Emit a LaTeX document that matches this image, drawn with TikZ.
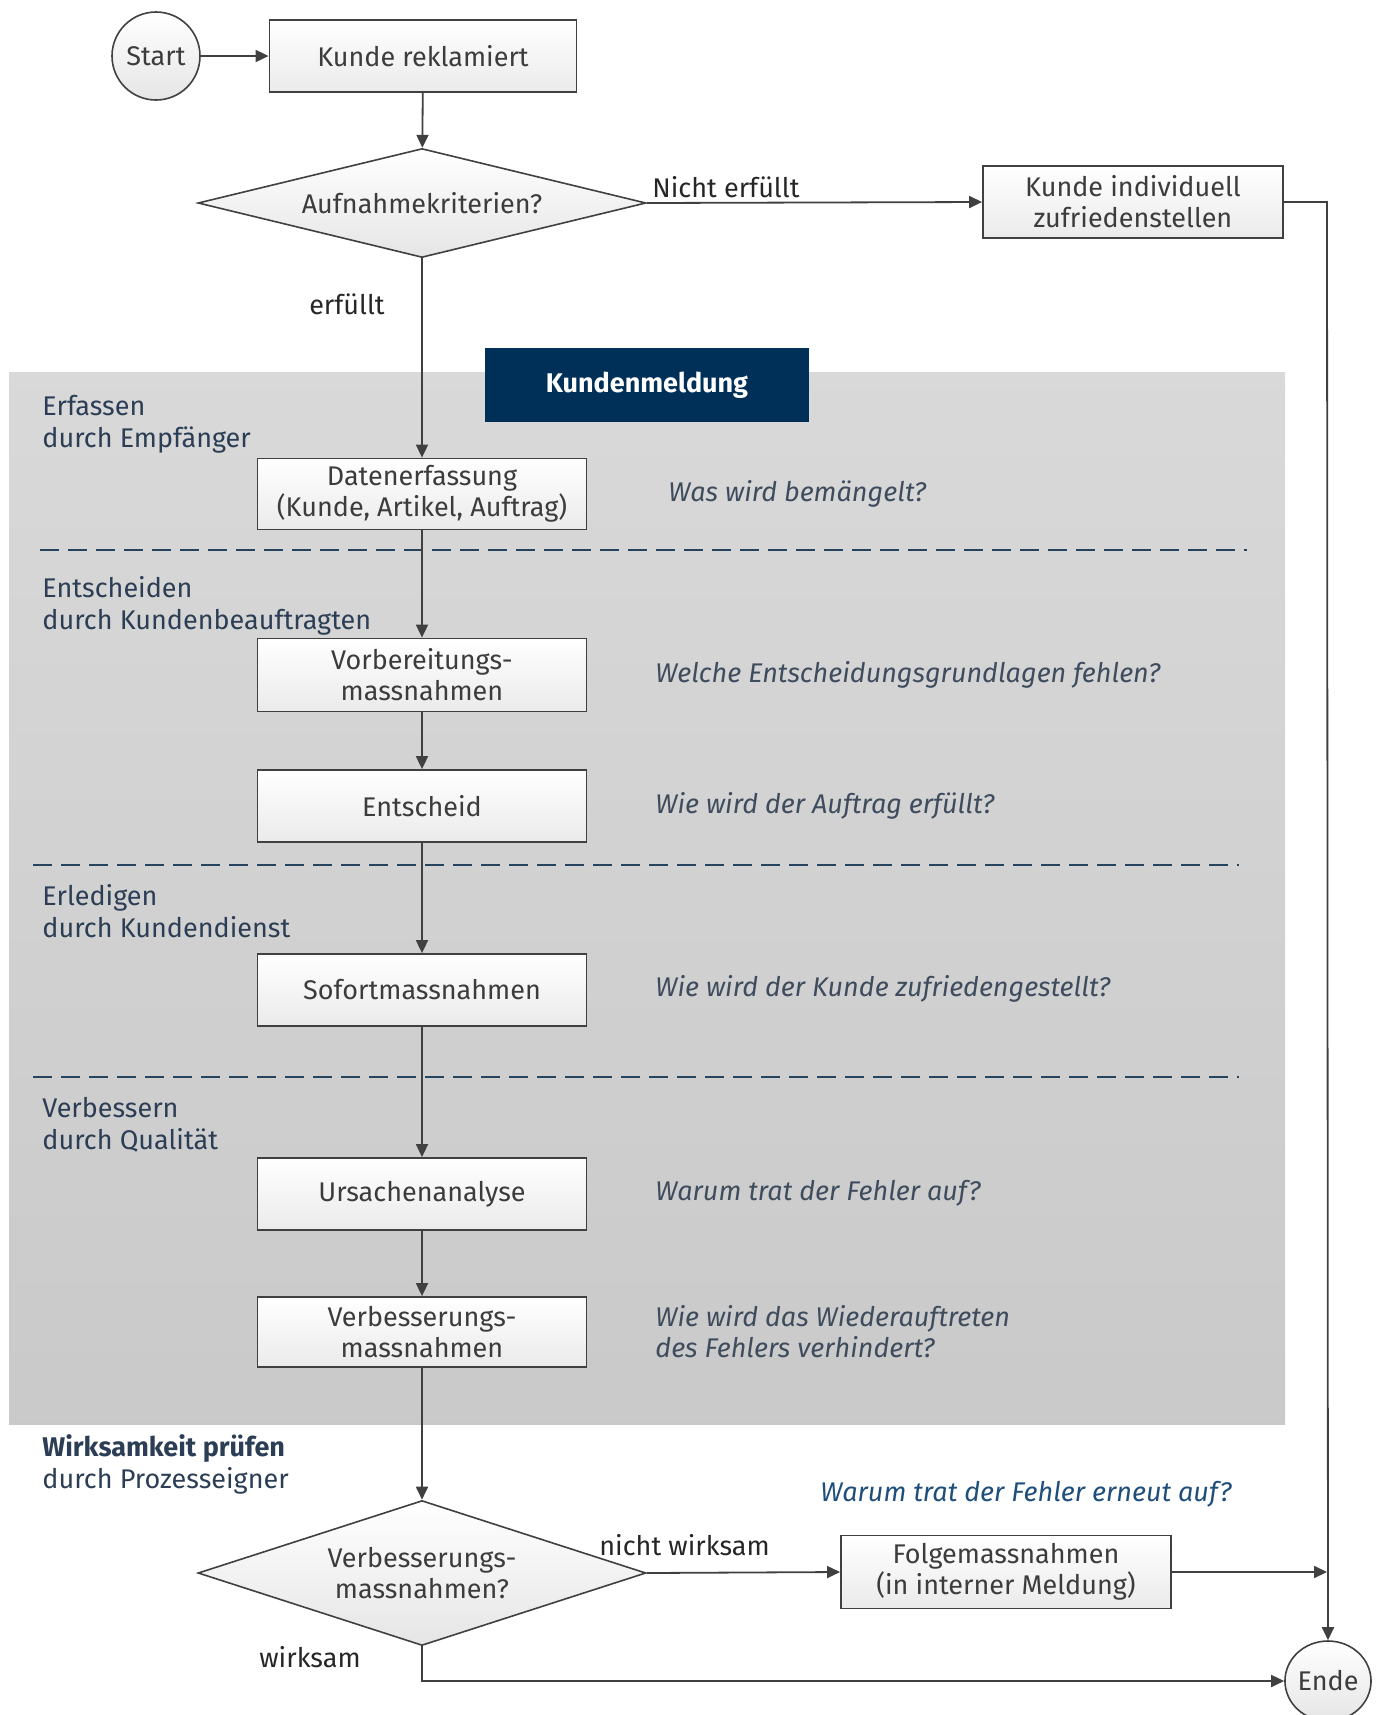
\documentclass[tikz,border=0pt]{standalone}
\usepackage{fontspec}
\setmainfont{Fira Sans}
\usetikzlibrary{shapes.geometric,arrows.meta}
\definecolor{txt}{HTML}{3C3C3C}
\definecolor{edge}{HTML}{404040}
\definecolor{navy}{HTML}{003057}
\definecolor{phase}{HTML}{2B3E55}
\definecolor{quest}{HTML}{3E4C5E}
\definecolor{questb}{HTML}{1F4E7A}
\definecolor{dashc}{HTML}{27445F}
\tikzset{
  base/.style={font=\fontsize{13.5}{15.5}\selectfont, text=txt},
  procbox/.style={base, draw=edge, line width=0.9pt, rectangle, top color=white, bottom color=black!8,
     minimum width=164.5pt, minimum height=35.5pt, align=center, inner sep=2pt},
  decbox/.style={base, draw=edge, line width=0.8pt, diamond, top color=white, bottom color=black!10,
     minimum width=224pt, inner sep=0pt, align=center},
  term/.style={base, draw=edge, line width=0.8pt, ellipse, top color=white, bottom color=black!10, inner sep=0pt},
  conn/.style={draw=edge, line width=0.9pt, -{Triangle[length=6.5pt,width=6pt]}},
  phaselbl/.style={font=\fontsize{13.5}{16}\selectfont, text=phase, anchor=base west, align=left, inner sep=0pt},
  qlbl/.style={font=\fontsize{13.5}{15.5}\selectfont\itshape, text=quest, anchor=west, align=left, inner sep=0pt},
  elbl/.style={font=\fontsize{13.5}{15.5}\selectfont, text=black!85, inner sep=0pt},
  sep/.style={draw=dashc, line width=1.1pt, dash pattern=on 9.5pt off 4.5pt}
}
\begin{document}
\begin{tikzpicture}[x=0.5pt,y=-0.5pt]
\useasboundingbox (0,0) rectangle (1377,1715);
% grey background
\shade[top color=black!15, bottom color=black!21] (9,372) rectangle (1285,1424);
\node[fill=navy, minimum width=162pt, minimum height=37pt, inner sep=0pt,
      font=\fontsize{13.5}{15.5}\selectfont\bfseries, text=white] (km) at (647,385) {Kundenmeldung};
% dashed separators
\draw[sep] (40,550) -- (1247,550);
\draw[sep] (33,865) -- (1239,865);
\draw[sep] (33,1077) -- (1239,1077);

% nodes
\node[term, minimum width=44pt, minimum height=44pt] (start) at (156,56) {Start};
\node[procbox, minimum width=153.5pt, minimum height=36pt] (kr) at (423,56) {Kunde reklamiert};
\node[decbox, minimum height=54.5pt, aspect=4.1] (d1) at (422,203) {Aufnahmekriterien?};
\node[procbox, minimum width=150pt, minimum height=36pt] (kiz) at (1133,202) {Kunde individuell\\zufriedenstellen};
\node[procbox] (de) at (422,494) {Datenerfassung\\(Kunde, Artikel, Auftrag)};
\node[procbox, minimum height=36.5pt] (vm) at (422,675) {Vorbereitungs-\\massnahmen};
\node[procbox, minimum height=36pt] (ent) at (422,806) {Entscheid};
\node[procbox, minimum height=36pt] (sm) at (422,990) {Sofortmassnahmen};
\node[procbox, minimum height=36pt] (ua) at (422,1194) {Ursachenanalyse};
\node[procbox, minimum height=35pt] (vbm) at (422,1332) {Verbesserungs-\\massnahmen};
\node[decbox, minimum height=72.5pt, aspect=3.1] (d2) at (422,1573) {Verbesserungs-\\massnahmen?};
\node[procbox, minimum width=165pt, minimum height=36.5pt] (fm) at (1006,1572) {Folgemassnahmen\\(in interner Meldung)};
\node[term, minimum width=42pt, minimum height=40pt] (ende) at (1328,1681) {Ende};
\coordinate (cr) at (1327,202);
\coordinate (fmend) at (1327,1572);

% phase labels (anchor = baseline of the second line)
\node[phaselbl] (p1) at (42,447) {Erfassen\\durch Empfänger};
\node[phaselbl] (p2) at (42,629) {Entscheiden\\durch Kundenbeauftragten};
\node[phaselbl] (p3) at (42,937) {Erledigen\\durch Kundendienst};
\node[phaselbl] (p4) at (42,1149) {Verbessern\\durch Qualität};
\node[phaselbl] (p5) at (42,1488) {\textbf{Wirksamkeit prüfen}\\durch Prozesseigner};

% questions
\node[qlbl] (q1) at (668,494) {Was wird bemängelt?};
\node[qlbl] (q2) at (655,675) {Welche Entscheidungsgrundlagen fehlen?};
\node[qlbl] (q3) at (655,806) {Wie wird der Auftrag erfüllt?};
\node[qlbl] (q4) at (655,989) {Wie wird der Kunde zufriedengestellt?};
\node[qlbl] (q5) at (655,1193) {Warum trat der Fehler auf?};
\node[qlbl] (q6) at (655,1332) {Wie wird das Wiederauftreten\\des Fehlers verhindert?};
\node[qlbl, text=questb] (q7) at (820,1494) {Warum trat der Fehler erneut auf?};

% connectors
\draw[conn] (start) -- (kr);
\draw[conn] (kr) -- (d1);
\draw[conn] (d1.east) -- (kiz.west);
\draw[conn] (d1) -- (de);
\draw[conn] (de) -- (vm);
\draw[conn] (vm) -- (ent);
\draw[conn] (ent) -- (sm);
\draw[conn] (sm) -- (ua);
\draw[conn] (ua) -- (vbm);
\draw[conn] (vbm) -- (d2);
\draw[conn] (kiz.east) -- (cr) -- (ende.north);
\draw[conn] (d2.east) -- (fm.west);
\draw[conn] (fm.east) -- (fmend);
\draw[conn] (d2.south) |- (ende.west);

% edge labels
\node[elbl, anchor=west] (l1) at (652,187) {Nicht erfüllt};
\node[elbl] (l2) at (347,304) {erfüllt};
\node[elbl, anchor=west] (l3) at (599,1545) {nicht wirksam};
\node[elbl] (l4) at (310,1657) {wirksam};
\end{tikzpicture}
\end{document}
